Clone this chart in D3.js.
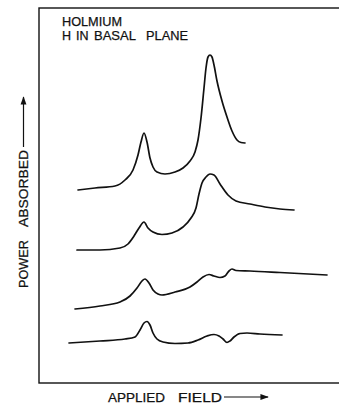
<!DOCTYPE html>
<html>
<head>
<meta charset="utf-8">
<script src="https://cdn.jsdelivr.net/npm/d3@7"></script>
<style>
  body { margin: 0; background: #fff; }
  svg text { font-family: "Liberation Sans", Arial, sans-serif; fill: #111; stroke: #111; stroke-width: 0.25; }
</style>
</head>
<body>
<div id="chart"></div>
<script>
// traces: field (arb. units), power absorbed (arb. units)
const trace1Field = [3.9, 5.6, 7.6, 8.6, 9.4, 9.9, 10.2, 10.5, 10.8, 11.1, 11.4, 11.8, 12.6, 13.6, 14.4, 15.1, 15.6, 15.9, 16.2, 16.5, 16.7, 16.9, 17.1, 17.3, 17.5, 17.8, 18.3, 18.8, 19.3, 19.8, 20.2, 20.6];
const trace1Power = [193, 195, 197, 203, 213, 228, 241, 250, 241, 225, 216, 211, 209, 211, 215, 222, 231, 243, 265, 295, 315, 326, 328, 326, 318, 302, 282, 266, 252, 243, 240.5, 240];

const trace2Field = [3.8, 6.1, 8.1, 8.9, 9.5, 10.0, 10.5, 10.9, 11.4, 12.3, 13.3, 14.4, 15.2, 15.7, 16.0, 16.3, 16.7, 17.1, 17.5, 18.1, 18.9, 19.7, 21.1, 22.6, 24.1, 25.5];
const trace2Power = [133, 133, 135, 139, 147, 155, 161, 155, 151, 148.5, 150, 156, 165, 175, 189, 200, 206, 209, 208, 199, 188, 182, 179, 176, 174, 173];

const trace3Field = [3.6, 6.1, 8.1, 9.1, 9.8, 10.3, 10.6, 11.0, 11.4, 11.9, 12.3, 13.6, 15.1, 15.8, 16.4, 17.0, 17.5, 18.1, 18.6, 19.0, 19.3, 19.7, 21.1, 24.1, 28.8];
const trace3Power = [74, 77, 81, 87, 95, 102, 104, 100, 93, 89, 88, 91, 96, 101, 106, 108.5, 107, 105.5, 107, 112, 114, 112.5, 112, 110.5, 108];

const trace4Field = [3.0, 6.1, 8.6, 9.6, 10.1, 10.5, 10.8, 11.1, 11.4, 11.8, 12.4, 13.6, 14.9, 15.9, 16.8, 17.5, 18.0, 18.4, 18.8, 19.1, 19.5, 20.1, 20.8, 22.1, 24.3];
const trace4Power = [40, 42, 44, 46, 53, 60, 61.5, 58, 50, 44, 41, 39.5, 40, 43, 47, 48.5, 47, 44, 40.5, 42, 46, 49.5, 50, 49, 48];

const titleLine1 = ["HOLMIUM"];
const titleLine2 = ["H", "IN", "BASAL", "PLANE"];
const xLabelWords = ["APPLIED", "FIELD"];
const yLabelWords = ["POWER", "ABSORBED"];

const W = 339, H = 404;
const margin = { top: 8, left: 39, bottom: 21 };

const svg = d3.select("#chart").append("svg")
  .attr("width", W).attr("height", H);

const x = d3.scaleLinear().domain([0, 30]).range([margin.left, margin.left + 300]);
const y = d3.scaleLinear().domain([0, 375]).range([H - margin.bottom, margin.top]);

// frame (runs off the right edge like the scan)
svg.append("rect")
  .attr("x", x(0)).attr("y", y(375))
  .attr("width", x(31) - x(0)).attr("height", y(0) - y(375))
  .attr("fill", "none").attr("stroke", "#111").attr("stroke-width", 1.4);

const line = d3.line()
  .x(d => x(d[0])).y(d => y(d[1]))
  .curve(d3.curveMonotoneX);

const traces = [
  [trace1Field, trace1Power],
  [trace2Field, trace2Power],
  [trace3Field, trace3Power],
  [trace4Field, trace4Power]
];

svg.append("g").selectAll("path")
  .data(traces)
  .join("path")
    .attr("d", t => line(d3.zip(t[0], t[1])))
    .attr("fill", "none")
    .attr("stroke", "#111")
    .attr("stroke-width", 1.7)
    .attr("stroke-linejoin", "round")
    .attr("stroke-linecap", "round");

// helper: words placed at hand-lettered positions, optionally stretched
function words(g, list, xs, lens, baseY) {
  const t = g.selectAll("text")
    .data(list)
    .join("text")
      .attr("x", (d, i) => xs[i]).attr("y", baseY)
      .attr("font-size", 12.5)
      .text(d => d);
  if (lens) {
    t.filter((d, i) => lens[i])
     .attr("textLength", (d, i, n) => lens[list.indexOf(d)])
     .attr("lengthAdjust", "spacingAndGlyphs");
  }
}

// title
words(svg.append("g"), titleLine1, [62], [60], 26);
words(svg.append("g"), titleLine2, [62, 76, 94, 146], [0, 0, 42, 42], 39.5);

// arrow head
svg.append("defs").append("marker")
  .attr("id", "arr").attr("viewBox", "0 0 10 10")
  .attr("refX", 9).attr("refY", 5)
  .attr("markerWidth", 7).attr("markerHeight", 7)
  .attr("orient", "auto")
  .append("path").attr("d", "M0,1.5L10,5L0,8.5Z").attr("fill", "#111");

// x label
words(svg.append("g"), xLabelWords, [108, 178], [57, 44], 401.5);
svg.append("line")
  .attr("x1", 224).attr("y1", 397).attr("x2", 268).attr("y2", 397)
  .attr("stroke", "#111").attr("stroke-width", 1.2)
  .attr("marker-end", "url(#arr)");

// y label (rotated, reads bottom to top)
words(svg.append("g").attr("transform", "translate(28,0) rotate(-90)"),
  yLabelWords, [-288, -227], [48, 77], 0);
svg.append("line")
  .attr("x1", 23.5).attr("y1", 147).attr("x2", 23.5).attr("y2", 97)
  .attr("stroke", "#111").attr("stroke-width", 1.2)
  .attr("marker-end", "url(#arr)");
</script>
</body>
</html>
